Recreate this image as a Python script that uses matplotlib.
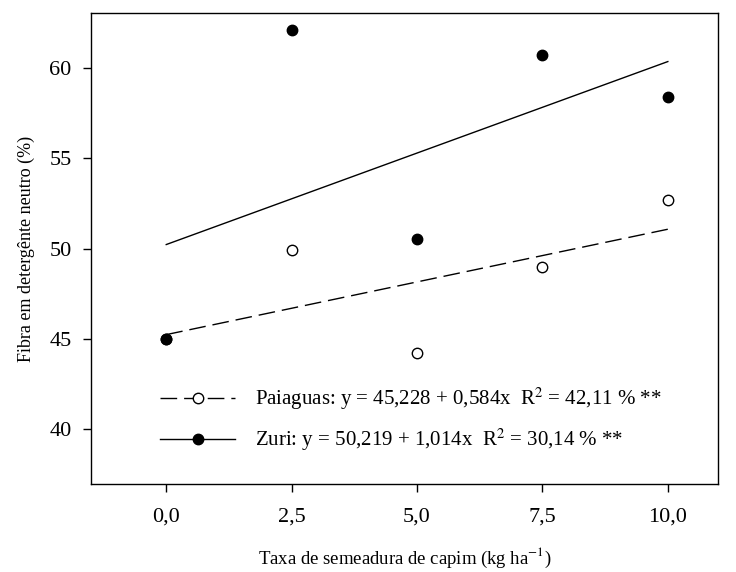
import matplotlib
matplotlib.use("Agg")
import matplotlib.pyplot as plt
import numpy as np

plt.rcParams['font.family'] = ['Liberation Serif', 'DejaVu Serif']
plt.rcParams['mathtext.fontset'] = 'stix'

# Seeding rates (kg/ha) and NDF values (%)
taxa = [0.0, 2.5, 5.0, 7.5, 10.0]
paiaguas = [45.0, 49.9, 44.2, 49.0, 52.7]
zuri = [45.0, 62.1, 50.5, 60.7, 58.4]

# Fitted linear models: intercept, slope
paiaguas_fit = (45.228, 0.584)
zuri_fit = (50.219, 1.014)

tick_labels_x = ["0,0", "2,5", "5,0", "7,5", "10,0"]
yticks = [40, 45, 50, 55, 60]

fig = plt.figure(figsize=(7.36, 5.72), dpi=100)
ax = fig.add_axes([91/736, 1 - 484/572, (718-91)/736, (484-13)/572])

DASH = (12, 5)
xs = np.array([0.0, 10.0])
ax.plot(xs, paiaguas_fit[0] + paiaguas_fit[1]*xs, color='black', lw=1.0, dashes=DASH)
ax.plot(xs, zuri_fit[0] + zuri_fit[1]*xs, color='black', lw=1.0)
ax.plot(taxa, paiaguas, 'o', mfc='white', mec='black', ms=7.5, mew=1.0, zorder=3)
ax.plot(taxa, zuri, 'o', mfc='black', mec='black', ms=7.5, zorder=3)

h1, = ax.plot([], [], color='black', lw=1.0, dashes=DASH, marker='o',
              mfc='white', mec='black', ms=7.5)
h2, = ax.plot([], [], color='black', lw=1.0, marker='o', mfc='black', ms=7.5)

ax.legend([h1, h2],
          ["Paiaguas: y = 45,228 + 0,584x  R$^{2}$ = 42,11 % **",
           "Zuri: y = 50,219 + 1,014x  R$^{2}$ = 30,14 % **"],
          loc='lower left', bbox_to_anchor=(0.097, 0.048), borderaxespad=0,
          frameon=False, fontsize=15, handlelength=3.6, handletextpad=0.95,
          labelspacing=0.7)

ax.set_xlim(-1.5, 11.0)
ax.set_ylim(36.95, 63.05)
ax.set_xticks(taxa)
ax.set_xticklabels(tick_labels_x)
ax.set_yticks(yticks)
ax.tick_params(direction='out', length=6, width=1, labelsize=16)
ax.tick_params(axis='y', pad=8)
ax.tick_params(axis='x', pad=11)
for s in ax.spines.values():
    s.set_linewidth(1.0)

ax.set_xlabel("Taxa de semeadura de capim (kg ha$^{-1}$)", fontsize=13.5, labelpad=14)
ax.set_ylabel("Fibra em detergênte neutro (%)", fontsize=13, labelpad=10)

fig.savefig("out.png", dpi=100)
